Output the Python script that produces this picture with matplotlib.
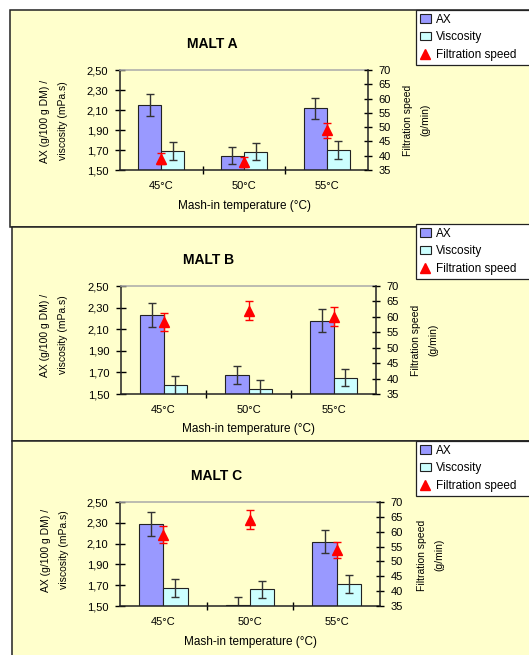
import numpy as np
import matplotlib
matplotlib.use('Agg')
import matplotlib.pyplot as plt
from matplotlib.patches import Rectangle, Patch
from matplotlib.lines import Line2D

plt.rcParams['font.family'] = ['Liberation Sans', 'DejaVu Sans']
plt.rcParams['font.size'] = 7

W, H = 529, 655

# data
categories = ['45°C', '50°C', '55°C']
series_names = ['AX', 'Viscosity', 'Filtration speed']

ax_a = [2.15, 1.645, 2.12]
ax_a_err = [0.11, 0.085, 0.105]
visc_a = [1.69, 1.685, 1.70]
visc_a_err = [0.09, 0.085, 0.09]
filt_a = [39.0, 37.8, 48.9]
filt_a_err = [1.9, 1.9, 2.6]

ax_b = [2.23, 1.68, 2.18]
ax_b_err = [0.113, 0.083, 0.107]
visc_b = [1.58, 1.55, 1.65]
visc_b_err = [0.085, 0.083, 0.08]
filt_b = [58.3, 62.0, 60.0]
filt_b_err = [2.9, 3.1, 3.1]

ax_c = [2.29, 1.51, 2.12]
ax_c_err = [0.115, 0.08, 0.107]
visc_c = [1.675, 1.66, 1.71]
visc_c_err = [0.088, 0.08, 0.087]
filt_c = [59.0, 64.0, 53.75]
filt_c_err = [2.8, 3.2, 2.7]

left_ticks = [1.50, 1.70, 1.90, 2.10, 2.30, 2.50]
right_ticks = [35, 40, 45, 50, 55, 60, 65, 70]

AX_COLOR = '#9999FF'
VISC_COLOR = '#CCFFFF'
PANEL_COLOR = '#FFFFCC'
EDGE = '#222222'


def fx(px):
    return px / W


def fy(py):
    return 1 - py / H


fig = plt.figure(figsize=(W / 100, H / 100), dpi=100)
fig.patch.set_facecolor('white')


def draw_panel(title, ax_vals, ax_err, visc_vals, visc_err, filt_vals, filt_err,
               frame, plot, title_xy, ylab_xy, rlab_xy, xlab_y, legend_top):
    # panel background / border
    fl, ft, fr, fb = frame
    fig.patches.append(Rectangle((fx(fl), fy(fb)), fx(fr) - fx(fl), fy(ft) - fy(fb),
                                 transform=fig.transFigure, facecolor=PANEL_COLOR,
                                 edgecolor=EDGE, lw=1.1, zorder=-10))

    l, t, r, b = plot
    ax = fig.add_axes([fx(l), fy(b), (r - l) / W, (b - t) / H])
    ax.patch.set_visible(False)
    x = np.arange(len(categories))
    w = 0.28
    ax.bar(x - w / 2, ax_vals, w, yerr=ax_err, color=AX_COLOR, edgecolor=EDGE, lw=0.8,
           error_kw=dict(ecolor='#333333', elinewidth=1.0, capsize=2.8, capthick=1.0))
    ax.bar(x + w / 2, visc_vals, w, yerr=visc_err, color=VISC_COLOR, edgecolor=EDGE, lw=0.8,
           error_kw=dict(ecolor='#333333', elinewidth=1.0, capsize=2.8, capthick=1.0))
    ax.set_xlim(-0.5, 2.5)
    ax.set_ylim(1.5, 2.5)
    ax.set_yticks(left_ticks)
    ax.set_yticklabels([f'{v:.2f}'.replace('.', ',') for v in left_ticks])
    ax.set_xticks(x)
    ax.set_xticklabels(categories)
    ax.set_xticks([0.5, 1.5], minor=True)
    ax.tick_params(axis='x', which='major', length=0, pad=8, labelsize=8)
    ax.tick_params(axis='x', which='minor', length=6, direction='inout', width=1.0)
    ax.tick_params(axis='y', length=7, direction='inout', width=1.0, pad=5, labelsize=8)
    for s in ['left', 'bottom']:
        ax.spines[s].set_linewidth(1.1)
        ax.spines[s].set_color(EDGE)
    ax.spines['right'].set_visible(False)
    ax.spines['top'].set_color('#AAAAAA')
    ax.spines['top'].set_linewidth(1.1)

    ax2 = ax.twinx()
    ax2.errorbar(x, filt_vals, yerr=filt_err, fmt='^', color='#FF0000', ms=6.5,
                 ecolor='#FF0000', elinewidth=1.0, capsize=2.8, capthick=1.0)
    ax2.set_ylim(35, 70)
    ax2.set_yticks(right_ticks)
    ax2.tick_params(axis='y', length=6, direction='inout', width=1.0, pad=4.5, labelsize=8)
    ax2.spines['right'].set_linewidth(1.1)
    ax2.spines['right'].set_color(EDGE)
    for s in ['left', 'top', 'bottom']:
        ax2.spines[s].set_visible(False)

    fig.text(fx(title_xy[0]), fy(title_xy[1]), title, ha='center', va='center',
             fontsize=10, fontweight='bold')
    fig.text(fx(ylab_xy[0]), fy(ylab_xy[1]), 'AX (g/100 g DM) /\nviscosity (mPa.s)',
             rotation=90, ha='center', va='center', linespacing=1.9, fontsize=7.5)
    fig.text(fx(rlab_xy[0]), fy(rlab_xy[1]), 'Filtration speed\n(g/min)',
             rotation=90, ha='center', va='center', linespacing=1.9, fontsize=7.5)
    fig.text(fx((l + r) / 2), fy(xlab_y), 'Mash-in temperature (°C)',
             ha='center', va='center', fontsize=8.5)

    handles = [Patch(facecolor=AX_COLOR, edgecolor=EDGE, lw=0.8),
               Patch(facecolor=VISC_COLOR, edgecolor=EDGE, lw=0.8),
               Line2D([], [], marker='^', color='#FF0000', ls='none', ms=7)]
    leg = fig.legend(handles, series_names, loc='upper left',
                     bbox_to_anchor=(fx(416), fy(legend_top + 60), fx(200), 60 / H),
                     mode='expand', borderaxespad=0, fancybox=False, framealpha=1,
                     edgecolor=EDGE, facecolor='white', fontsize=8.5,
                     handlelength=1.0, handleheight=0.7, handletextpad=0.4,
                     borderpad=0.3, labelspacing=0.5)
    leg.get_frame().set_linewidth(0.9)


draw_panel('MALT A', ax_a, ax_a_err, visc_a, visc_a_err, filt_a, filt_a_err,
           frame=(10, 10, 560, 227), plot=(120, 70, 368, 170),
           title_xy=(212, 44), ylab_xy=(54, 121), rlab_xy=(417, 120), xlab_y=206,
           legend_top=10)
draw_panel('MALT B', ax_b, ax_b_err, visc_b, visc_b_err, filt_b, filt_b_err,
           frame=(12, 227, 560, 441), plot=(121, 286, 376, 394),
           title_xy=(209, 260), ylab_xy=(54, 335), rlab_xy=(425, 340), xlab_y=429,
           legend_top=224)
draw_panel('MALT C', ax_c, ax_c_err, visc_c, visc_c_err, filt_c, filt_c_err,
           frame=(12, 441, 560, 700), plot=(120, 502, 380, 606),
           title_xy=(217, 476), ylab_xy=(55, 550), rlab_xy=(431, 555), xlab_y=642,
           legend_top=441)

fig.savefig('out.png', dpi=100)
